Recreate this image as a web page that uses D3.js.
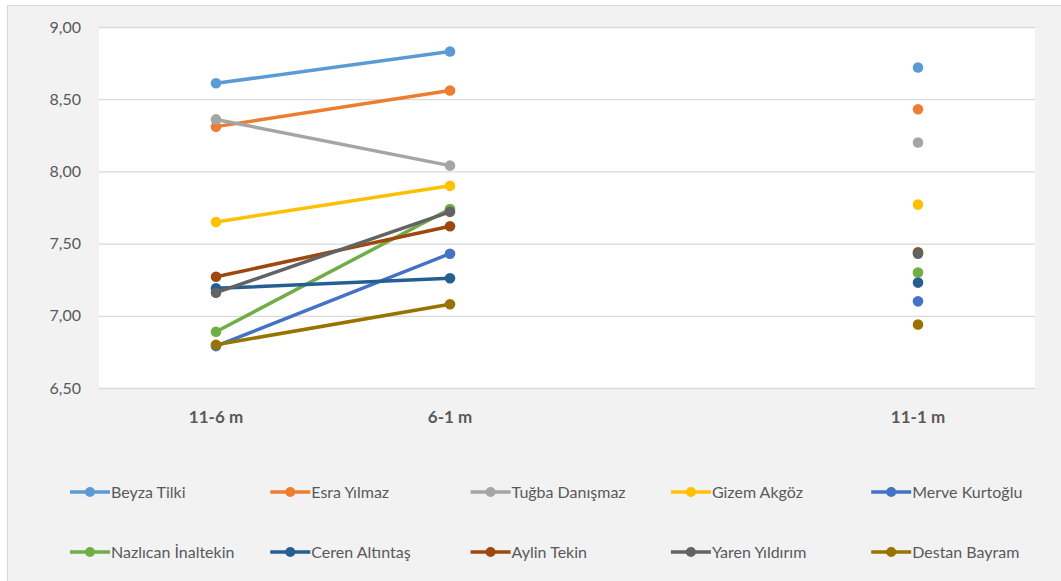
<!DOCTYPE html>
<html>
<head>
<meta charset="utf-8">
<script src="https://cdn.jsdelivr.net/npm/d3@7"></script>
<style>
body { margin: 0; background: #fff; }
svg { display: block; font-family: Lato, "Open Sans", sans-serif; }
</style>
</head>
<body>
<svg width="1061" height="581"></svg>
<script>
// periods (third slot is empty in the original sheet, that's why the gap)
var periods = ["11-6 m", "6-1 m", "", "11-1 m"];
var yTicks = [6.5, 7, 7.5, 8, 8.5, 9];

var names = ["Beyza Tilki", "Esra Yılmaz", "Tuğba Danışmaz", "Gizem Akgöz", "Merve Kurtoğlu",
    "Nazlıcan İnaltekin", "Ceren Altıntaş", "Aylin Tekin", "Yaren Yıldırım", "Destan Bayram"];
var colors = ["#5b9bd5", "#ed7d31", "#a5a5a5", "#ffc000", "#4472c4",
    "#70ad47", "#255e91", "#9e480e", "#636363", "#997300"];

var beyza = [8.61, 8.83, null, 8.72];
var esra = [8.31, 8.56, null, 8.43];
var tugba = [8.36, 8.04, null, 8.20];
var gizem = [7.65, 7.90, null, 7.77];
var merve = [6.79, 7.43, null, 7.10];
var nazlican = [6.89, 7.74, null, 7.30];
var ceren = [7.19, 7.26, null, 7.23];
var aylin = [7.27, 7.62, null, 7.44];
var yaren = [7.16, 7.72, null, 7.43];
var destan = [6.80, 7.08, null, 6.94];

var series = [beyza, esra, tugba, gizem, merve, nazlican, ceren, aylin, yaren, destan];

var svg = d3.select("svg");

// chart area background + frame
svg.append("rect")
    .attr("x", 7.5).attr("y", 5.5)
    .attr("width", 1100).attr("height", 600)
    .attr("fill", "#f2f2f2")
    .attr("stroke", "#d9d9d9");

var margin = { top: 27, left: 99 };
var plotW = 936, plotH = 361;

var x = d3.scaleBand()
    .domain(d3.range(periods.length))
    .range([margin.left, margin.left + plotW]);

var y = d3.scaleLinear()
    .domain([6.5, 9])
    .range([margin.top + plotH, margin.top]);

svg.append("rect")
    .attr("x", margin.left).attr("y", margin.top)
    .attr("width", plotW).attr("height", plotH)
    .attr("fill", "#fff");

// grid
var yAxis = svg.append("g")
    .attr("transform", "translate(" + margin.left + ",0)")
    .call(d3.axisLeft(y).tickValues(yTicks).tickSize(-plotW).tickPadding(18)
        .tickFormat(function(d) { return d3.format(".2f")(d).replace(".", ","); }));
yAxis.select(".domain").remove();
yAxis.selectAll("line").attr("stroke", "#d9d9d9").attr("stroke-width", 1.3);
yAxis.selectAll("text")
    .attr("fill", "#595959")
    .attr("font-size", "16px")
    .attr("font-family", "Lato, sans-serif");

var xAxis = svg.append("g")
    .attr("transform", "translate(0," + (margin.top + plotH) + ")")
    .call(d3.axisBottom(x).tickSize(0).tickPadding(23)
        .tickFormat(function(i) { return periods[i]; }));
xAxis.select(".domain").remove();
xAxis.selectAll("text")
    .attr("fill", "#595959")
    .attr("font-size", "17px")
    .attr("font-weight", "bold")
    .attr("font-family", "Lato, sans-serif");

var line = d3.line()
    .defined(function(d) { return d != null; })
    .x(function(d, i) { return x(i) + x.bandwidth() / 2; })
    .y(function(d) { return y(d); });

series.forEach(function(vals, s) {
    var g = svg.append("g");
    g.append("path")
        .datum(vals)
        .attr("d", line)
        .attr("fill", "none")
        .attr("stroke", colors[s])
        .attr("stroke-width", 3.5)
        .attr("stroke-linecap", "round");
    g.selectAll("circle")
        .data(vals.map(function(v, i) { return { v: v, i: i }; })
            .filter(function(d) { return d.v != null; }))
        .enter()
        .append("circle")
        .attr("cx", function(d) { return x(d.i) + x.bandwidth() / 2; })
        .attr("cy", function(d) { return y(d.v); })
        .attr("r", 5.3)
        .attr("fill", colors[s]);
});

// legend, 2 rows of 5
var legend = svg.append("g");
names.forEach(function(n, k) {
    var lx = 70 + (k % 5) * 200.3;
    var ly = k < 5 ? 492 : 552;
    var item = legend.append("g").attr("transform", "translate(" + lx + "," + ly + ")");
    item.append("line")
        .attr("x1", 0).attr("x2", 40)
        .attr("stroke", colors[k])
        .attr("stroke-width", 3.5);
    item.append("circle")
        .attr("cx", 20).attr("r", 5)
        .attr("fill", colors[k]);
    item.append("text")
        .attr("x", 41)
        .attr("dy", "0.36em")
        .attr("fill", "#595959")
        .attr("font-size", "16px")
        .text(n);
});
</script>
</body>
</html>
